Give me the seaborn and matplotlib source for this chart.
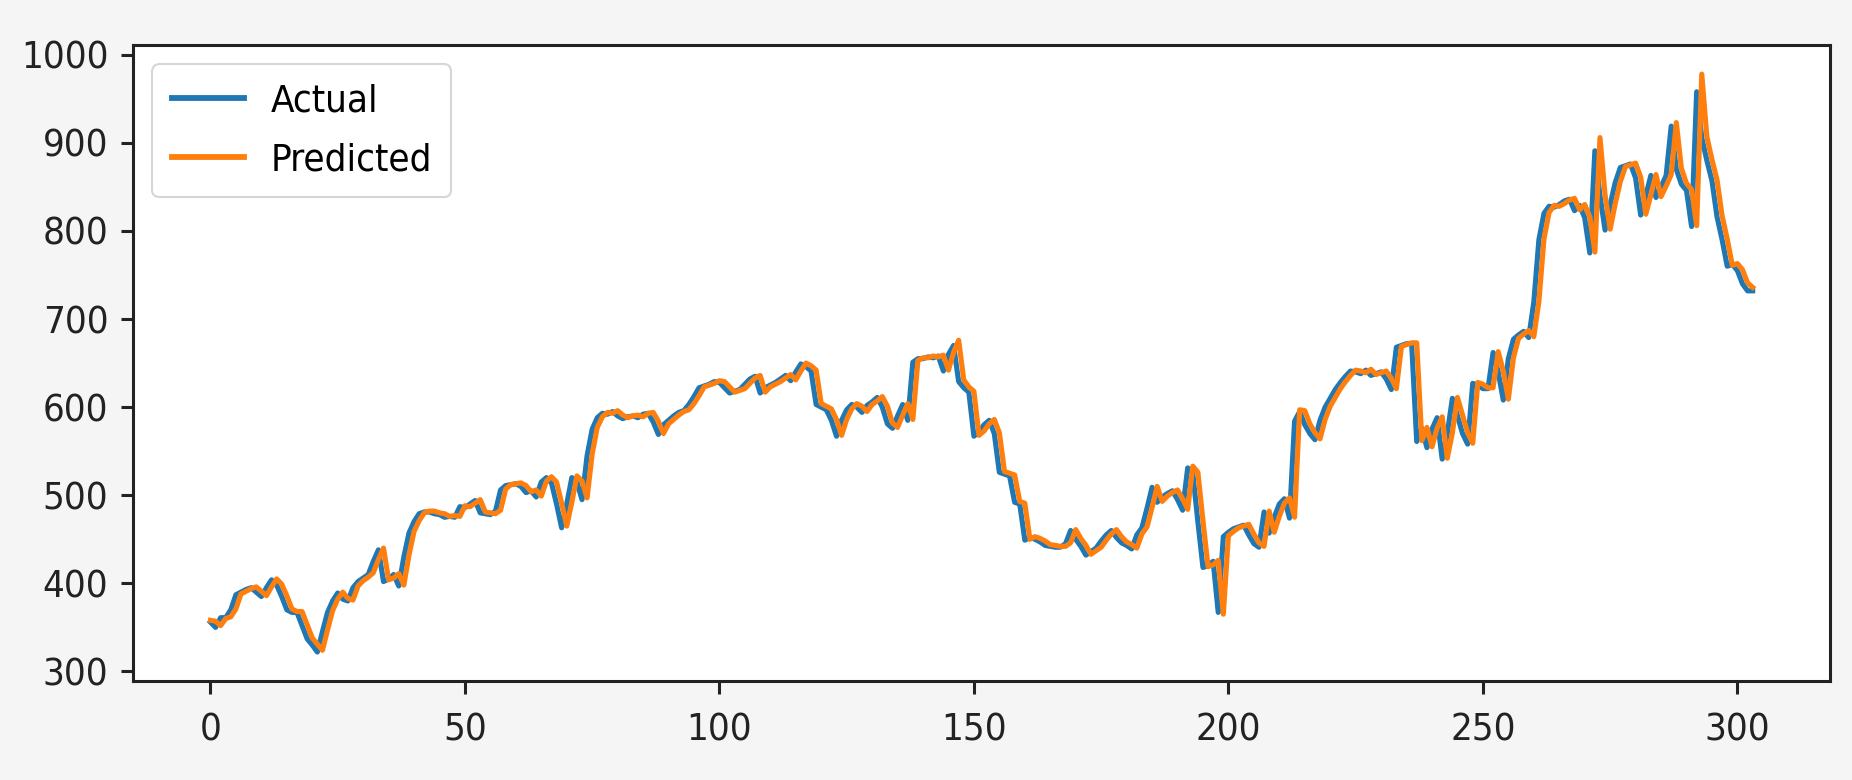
import numpy as np
import matplotlib
matplotlib.use("Agg")
import matplotlib.pyplot as plt
from matplotlib import font_manager
import seaborn as sns

# values (index 0..303)
actual = [
    356, 350, 361, 361, 370, 387, 390, 393, 395, 390,
    385, 395, 404, 398, 385, 370, 367, 367, 352, 337,
    330, 322, 345, 367, 380, 389, 382, 380, 395, 402,
    406, 410, 425, 438, 402, 405, 410, 397, 430, 457,
    470, 479, 481, 481, 479, 478, 475, 476, 475, 487,
    486, 490, 494, 480, 479, 478, 482, 506, 511, 512,
    513, 510, 503, 505, 498, 515, 520, 514, 490, 463,
    490, 520, 515, 495, 545, 575, 588, 593, 592, 595,
    590, 587, 589, 590, 588, 592, 593, 583, 569, 580,
    585, 590, 594, 596, 603, 612, 622, 624, 626, 629,
    628, 622, 616, 618, 620, 626, 632, 635, 616, 622,
    625, 628, 632, 636, 630, 640, 649, 646, 641, 603,
    600, 597, 585, 567, 585, 597, 603, 600, 594, 602,
    606, 611, 600, 581, 576, 590, 603, 585, 651, 655,
    655, 657, 656, 658, 641, 660, 670, 629, 622, 617,
    567, 572, 580, 585, 570, 526, 524, 522, 492, 490,
    449, 452, 450, 447, 443, 442, 441, 441, 445, 460,
    450, 442, 432, 436, 440, 448, 455, 460, 452, 446,
    443, 439, 455, 463, 485, 509, 492, 498, 502, 505,
    495, 483, 531, 525, 470, 418, 420, 425, 367, 453,
    458, 462, 464, 466, 455, 445, 441, 481, 457, 475,
    490, 496, 474, 584, 595, 580, 570, 563, 585, 600,
    610, 620, 628, 635, 641, 640, 638, 642, 636, 638,
    640, 632, 620, 668, 670, 672, 672, 561, 576, 554,
    575, 588, 541, 570, 610, 590, 570, 558, 627, 625,
    621, 621, 662, 640, 608, 655, 677, 682, 686, 679,
    719, 790, 820, 828, 827, 830, 834, 836, 823, 829,
    815, 775, 891, 840, 801, 830, 855, 872, 874, 876,
    860, 818, 840, 863, 838, 850, 863, 919, 870, 853,
    846, 805, 958, 906, 880, 857, 816, 790, 760, 762,
    755, 740, 732, 732,
]

predicted = [
    358, 357, 352, 360, 362, 371, 388, 391, 394, 396,
    391, 386, 396, 405, 399, 386, 371, 368, 368, 353,
    338, 331, 324, 347, 369, 382, 390, 383, 381, 397,
    403, 407, 412, 427, 440, 404, 406, 411, 398, 432,
    459, 471, 480, 482, 482, 480, 479, 476, 477, 476,
    488, 487, 491, 495, 481, 480, 479, 483, 507, 512,
    513, 514, 511, 504, 506, 499, 516, 521, 515, 491,
    465, 492, 522, 516, 497, 547, 577, 589, 594, 593,
    596, 591, 588, 590, 591, 589, 593, 594, 584, 570,
    581, 586, 591, 595, 597, 604, 613, 623, 625, 627,
    630, 629, 623, 617, 619, 621, 627, 633, 636, 617,
    623, 626, 629, 633, 637, 631, 641, 650, 647, 642,
    604, 601, 598, 586, 568, 586, 598, 604, 601, 595,
    603, 607, 612, 601, 582, 577, 591, 604, 586, 653,
    656, 656, 658, 657, 659, 642, 662, 676, 631, 623,
    618, 568, 573, 581, 586, 571, 527, 525, 523, 493,
    491, 450, 453, 451, 448, 444, 443, 442, 442, 446,
    461, 451, 443, 433, 437, 441, 449, 456, 461, 453,
    447, 444, 440, 456, 464, 486, 510, 493, 499, 503,
    506, 496, 484, 533, 526, 471, 419, 421, 426, 365,
    454, 459, 463, 465, 467, 456, 446, 442, 482, 458,
    476, 491, 497, 475, 597, 596, 581, 571, 564, 586,
    601, 611, 621, 629, 636, 642, 641, 639, 643, 637,
    639, 641, 633, 621, 669, 671, 673, 673, 562, 577,
    555, 576, 589, 542, 571, 611, 591, 571, 559, 628,
    626, 622, 622, 663, 641, 609, 656, 678, 683, 687,
    680, 720, 791, 821, 829, 828, 831, 835, 837, 824,
    830, 816, 776, 906, 841, 802, 831, 856, 873, 875,
    877, 861, 819, 841, 864, 839, 851, 864, 923, 871,
    854, 847, 806, 978, 907, 881, 858, 817, 791, 761,
    763, 756, 741, 736,
]

idx = np.arange(len(actual))

# the reference text looks tall and narrow; use a condensed face if there is one
fp = font_manager.FontProperties(family="DejaVu Sans", stretch="condensed")
if "Condensed" in font_manager.findfont(fp):
    font = dict(family="DejaVu Sans", stretch="condensed", size=27.5)
else:
    font = dict(family="DejaVu Sans", size=24)

fig = plt.figure(figsize=(18.52, 7.8), dpi=100, facecolor="#f5f5f5")
ax = fig.add_axes([0.072, 0.127, 0.916, 0.815])
ax.set_facecolor("white")

sns.lineplot(x=idx, y=actual, ax=ax, color="#1f77b4", linewidth=3.7, label="Actual")
sns.lineplot(x=idx, y=predicted, ax=ax, color="#ff7f0e", linewidth=3.7, label="Predicted")

ax.set_xticks([0, 50, 100, 150, 200, 250, 300])
ax.set_yticks([300, 400, 500, 600, 700, 800, 900, 1000])
ax.tick_params(width=2.2, length=9, colors="#222222")
ax.tick_params(axis="x", pad=14)
ax.tick_params(axis="y", pad=9)
for lab in ax.get_xticklabels() + ax.get_yticklabels():
    lab.set_fontproperties(font_manager.FontProperties(**font))
for s in ax.spines.values():
    s.set_linewidth(2.2)
    s.set_color("#222222")

leg = ax.legend(loc="upper left", prop=font_manager.FontProperties(**font),
                handlelength=1.9, handletextpad=0.7, labelspacing=0.6,
                borderpad=0.5, framealpha=0.8, edgecolor="#cccccc")
leg.get_frame().set_linewidth(1.5)
for h in leg.get_lines():
    h.set_linewidth(4.2)

fig.savefig("out.png", dpi=100, facecolor=fig.get_facecolor())
